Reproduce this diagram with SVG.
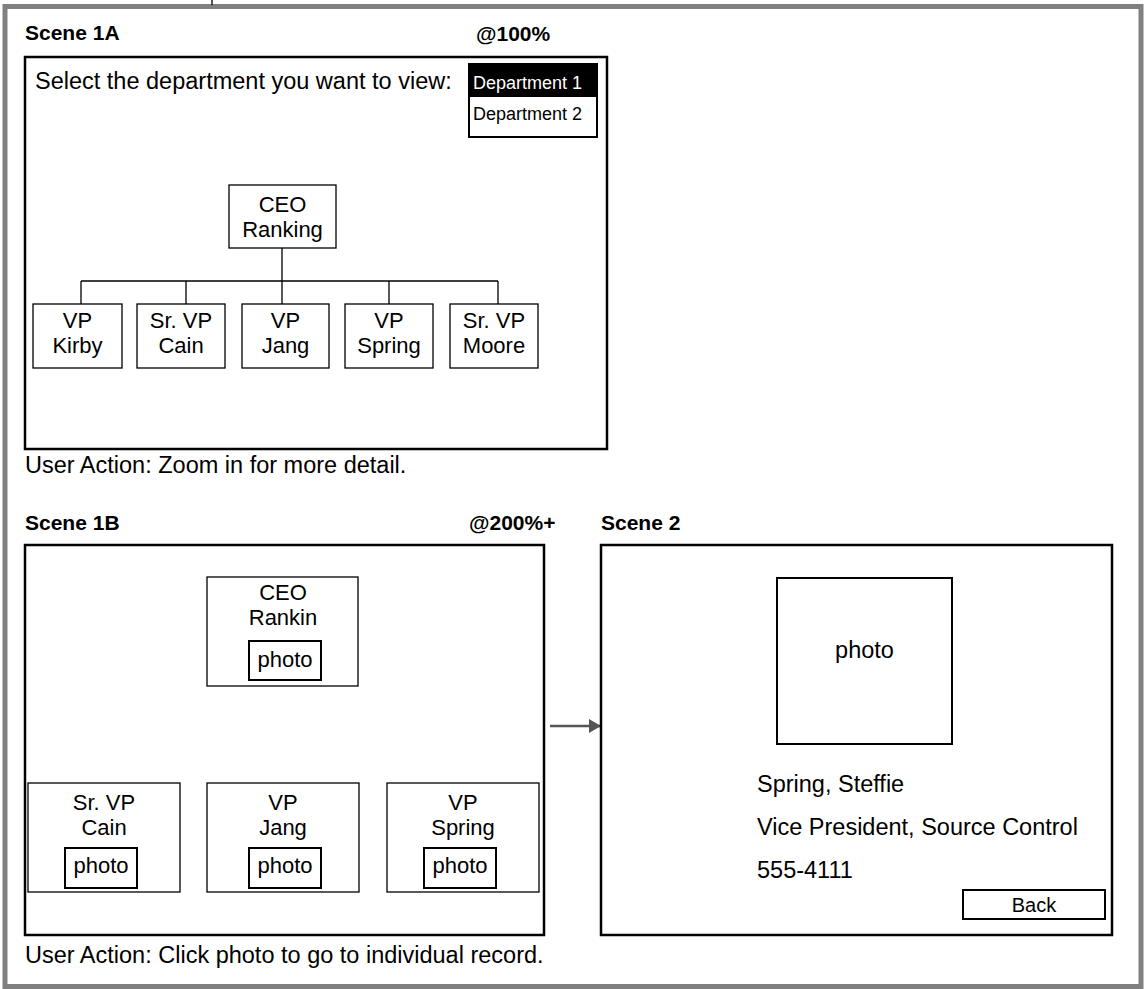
<svg xmlns="http://www.w3.org/2000/svg" width="1146" height="989" viewBox="0 0 1146 989">
<defs>
<style>
text{font-family:"Liberation Sans",Arial,Helvetica,sans-serif;fill:#000}
.t{font-size:23.5px}
.n{font-size:22px}
.c{text-anchor:middle}
.h{font-size:21px;font-weight:bold}
.dd{font-size:18px}
.scene{fill:#fff;stroke:#000;stroke-width:2.5}
.node{fill:#fff;stroke:#000;stroke-width:1.3}
.ph{fill:#fff;stroke:#000;stroke-width:2}
.wire{fill:none;stroke:#000;stroke-width:1.3}
</style>
<marker id="ah" markerWidth="12" markerHeight="14" refX="11" refY="7" orient="auto" markerUnits="userSpaceOnUse">
<path d="M0,0 L12,7 L0,14 Z" fill="#555"/>
</marker>
</defs>
<rect width="1146" height="989" fill="#fff"/>
<rect x="5" y="6.5" width="1136" height="980" fill="none" stroke="#808080" stroke-width="5"/>
<line x1="212" y1="0" x2="212" y2="5" stroke="#000" stroke-width="1.3"/>

<g id="scene1a">
<text class="h" x="25" y="40">Scene 1A</text>
<text class="h" x="476" y="41">@100%</text>
<rect class="scene" x="25" y="57" width="582" height="392"/>
<text class="t" x="35" y="89">Select the department you want to view:</text>
<g id="dropdown">
<rect x="469" y="64" width="128" height="73" fill="#fff" stroke="#000" stroke-width="2"/>
<rect x="469" y="64" width="128" height="33" fill="#000"/>
<text class="dd" x="473" y="89" style="fill:#fff">Department 1</text>
<text class="dd" x="473" y="120">Department 2</text>
</g>
</g>

<g id="connectors">
<path class="wire" d="M282,248 V281 M81,281 H498 M81,281 V304 M186,281 V304 M282,281 V304 M389,281 V304 M498,281 V304"/>
<path class="wire" d="M282,686 V737 M25,737 H544 M97,737 V783 M282,737 V783 M468,737 V783"/>
<line x1="550" y1="726" x2="600" y2="726" stroke="#555" stroke-width="2.5" marker-end="url(#ah)"/>
</g>

<g id="n1a-ceo">
<rect class="node" x="229" y="185" width="107" height="63"/>
<text class="n c" x="282.5" y="212">CEO<tspan x="282.5" dy="24.6">Ranking</tspan></text>
</g>
<g id="n1a-kirby">
<rect class="node" x="33" y="304" width="89" height="64"/>
<text class="n c" x="77.5" y="328">VP<tspan x="77.5" dy="24.6">Kirby</tspan></text>
</g>
<g id="n1a-cain">
<rect class="node" x="137" y="304" width="88" height="64"/>
<text class="n c" x="181" y="328">Sr. VP<tspan x="181" dy="24.6">Cain</tspan></text>
</g>
<g id="n1a-jang">
<rect class="node" x="242" y="304" width="87" height="64"/>
<text class="n c" x="285.5" y="328">VP<tspan x="285.5" dy="24.6">Jang</tspan></text>
</g>
<g id="n1a-spring">
<rect class="node" x="345" y="304" width="88" height="64"/>
<text class="n c" x="389" y="328">VP<tspan x="389" dy="24.6">Spring</tspan></text>
</g>
<g id="n1a-moore">
<rect class="node" x="450" y="304" width="88" height="64"/>
<text class="n c" x="494" y="328">Sr. VP<tspan x="494" dy="24.6">Moore</tspan></text>
</g>
<text class="t" x="25" y="473">User Action: Zoom in for more detail.</text>

<g id="scene1b">
<text class="h" x="25" y="530">Scene 1B</text>
<text class="h" x="469" y="530">@200%+</text>
<rect class="scene" x="25" y="545" width="519" height="390"/>
</g>
<g id="n1b-ceo">
<rect class="node" x="207" y="577" width="151" height="109"/>
<text class="n c" x="283" y="600">CEO<tspan x="283" dy="24.6">Rankin</tspan></text>
<rect class="ph" x="249" y="641" width="72" height="39"/>
<text class="n c" x="285" y="667">photo</text>
</g>
<g id="n1b-cain">
<rect class="node" x="28" y="783" width="152" height="109"/>
<text class="n c" x="104" y="810">Sr. VP<tspan x="104" dy="24.6">Cain</tspan></text>
<rect class="ph" x="65" y="848" width="72" height="40"/>
<text class="n c" x="101" y="873">photo</text>
</g>
<g id="n1b-jang">
<rect class="node" x="207" y="783" width="152" height="109"/>
<text class="n c" x="283" y="810">VP<tspan x="283" dy="24.6">Jang</tspan></text>
<rect class="ph" x="249" y="848" width="72" height="40"/>
<text class="n c" x="285" y="873">photo</text>
</g>
<g id="n1b-spring">
<rect class="node" x="387" y="783" width="152" height="109"/>
<text class="n c" x="463" y="810">VP<tspan x="463" dy="24.6">Spring</tspan></text>
<rect class="ph" x="424" y="848" width="72" height="40"/>
<text class="n c" x="460" y="873">photo</text>
</g>
<text class="t" x="25" y="963">User Action: Click photo to go to individual record.</text>

<g id="scene2">
<text class="h" x="601" y="530">Scene 2</text>
<rect class="scene" x="601" y="545" width="511" height="390"/>
<rect class="ph" x="777" y="578" width="175" height="166"/>
<text class="t c" x="864.5" y="658">photo</text>
<text class="t" x="757" y="792">Spring, Steffie</text>
<text class="t" x="757" y="835">Vice President, Source Control</text>
<text class="t" x="757" y="878">555-4111</text>
<g id="back">
<rect class="ph" x="963" y="890" width="142" height="29"/>
<text class="c" x="1034" y="912" style="font-size:20px">Back</text>
</g>
</g>
</svg>
